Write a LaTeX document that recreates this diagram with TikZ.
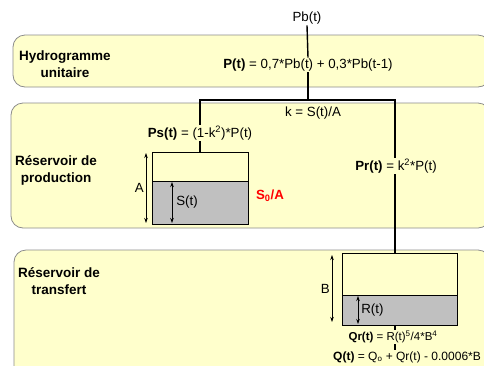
\documentclass[tikz,border=0pt]{standalone}
\usepackage{fontspec}
\setmainfont{Liberation Sans}
\usetikzlibrary{arrows.meta}

\definecolor{panelfill}{HTML}{FFFFCC}
\definecolor{panelline}{HTML}{8C8C8C}
\definecolor{waterfill}{HTML}{C0C0C0}

\tikzset{
	panel/.style={draw=panelline,fill=panelfill,rounded corners=12pt,line width=0.8pt},
	tankbox/.style={draw=black,line width=0.8pt,inner sep=0pt,outer sep=0pt},
	flow/.style={draw=black,line width=1.4pt},
	dimline/.style={line width=0.7pt,{Stealth[length=5pt,width=3.5pt]}-{Stealth[length=5pt,width=3.5pt]}},
	txt/.style={inner sep=1pt,font=\fontsize{13.3}{15}\selectfont},
	small/.style={inner sep=1pt,font=\fontsize{11.5}{13}\selectfont},
	title/.style={inner sep=0pt,align=center,font=\fontsize{13.5}{17}\selectfont\bfseries}
}

\begin{document}
\begin{tikzpicture}[x=1pt,y=-1pt]
	\useasboundingbox (0,0) rectangle (484,365);
	\clip (0,0) rectangle (484,365);
	% bandeaux
	\fill[panel] (13,35) rectangle (490,87);
	\fill[panel] (11,103) rectangle (490,228);
	\fill[panel] (14,250) rectangle (490,380);
	\node[title] (hu) at (65,64) {Hydrogramme\\unitaire};
	\node[title] (rp) at (56,170) {Réservoir de\\production};
	\node[title] (rt) at (59,281) {Réservoir de\\transfert};

	% pluie et partage
	\node[txt] (pb) at (307,18) {Pb(t)};
	\node[txt,fill=panelfill] (pt) at (308,65) {\textbf{P(t)} = 0,7*Pb(t) + 0,3*Pb(t-1)};
	\node[txt] (ks) at (313,113) {k = S(t)/A};
	\node[txt,fill=panelfill] (ps) at (200,133) {\textbf{Ps(t)} = (1-k\textsuperscript{2})*P(t)};
	\node[txt,fill=panelfill] (pr) at (396,166) {\textbf{Pr(t)} = k\textsuperscript{2}*P(t)};
	\coordinate (jl) at (200,100);
	\coordinate (jr) at (395,100);
	\draw[flow] (pb.south) -- (pt.north);
	\draw[flow] (pt.south) -- (pt.south |- jl);
	\draw[flow] (ps.north -| jl) -- (jl) -- (jr) -- (pr.north -| jr);

	% reservoir de production
	\node[tankbox,fill=panelfill,minimum width=96pt,minimum height=29pt] (aup) at (200,166.5) {};
	\node[tankbox,fill=waterfill,minimum width=96pt,minimum height=43pt] (alow) at (200,202.5) {};
	\draw[flow] (ps.south -| jl) -- (aup.north -| jl);
	\draw[dimline] ([xshift=-6pt,yshift=-1pt]aup.north west) -- ([xshift=-6pt,yshift=1pt]alow.south west)
		node[txt,midway,left=1pt] (la) {A};
	\draw[dimline] ([xshift=20pt,yshift=-1pt]alow.north west) -- ([xshift=20pt,yshift=1pt]alow.south west)
		node[txt,midway,right=3pt] (ls) {S(t)};
	\node[txt,text=red,font=\fontsize{13.3}{15}\selectfont\bfseries] (so) at (270,196) {S\textsubscript{0}/A};

	% reservoir de transfert
	\node[tankbox,fill=panelfill,minimum width=115pt,minimum height=42pt] (bup) at (399.5,274) {};
	\node[tankbox,fill=waterfill,minimum width=115pt,minimum height=30pt] (blow) at (399.5,310) {};
	\draw[flow] (pr.south -| jr) -- (bup.north -| jr);
	\draw[dimline] ([xshift=-10pt,yshift=-2pt]bup.north west) -- ([xshift=-10pt,yshift=3pt]blow.south west)
		node[txt,midway,left=1pt] (lb) {B};
	\draw[dimline] ([xshift=16pt,yshift=-1pt]blow.north west) -- ([xshift=16pt,yshift=1pt]blow.south west)
		node[txt,midway,right=2pt] (lr) {R(t)};
	\node[small] (qr) at (393,337) {\textbf{Qr(t)} = R(t)\textsuperscript{5}/4*B\textsuperscript{4}};
	\node[txt,anchor=west,font=\fontsize{12}{14}\selectfont] (q) at (332,357) {\textbf{Q(t)} = Q\textsubscript{o} + Qr(t) - 0.0006*B};
	\draw[flow] (blow.south -| jr) -- (qr.north -| jr);
	\draw[flow] (qr.south -| jr) -- (q.north -| jr);
\end{tikzpicture}
\end{document}
